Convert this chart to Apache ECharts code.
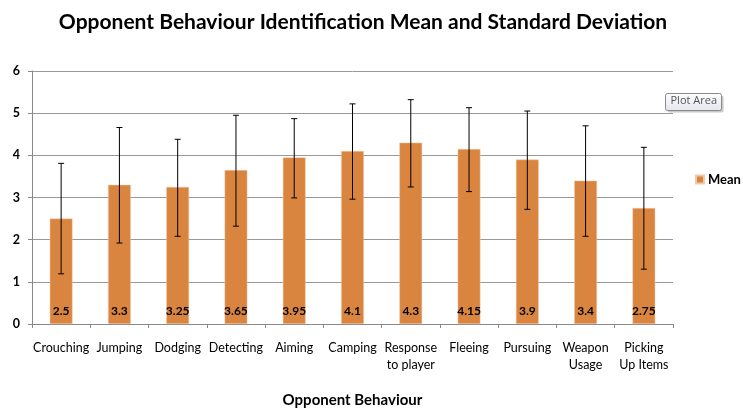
<!DOCTYPE html>
<html>
<head>
<meta charset="utf-8">
<script src="https://cdn.jsdelivr.net/npm/echarts@6/dist/echarts.min.js"></script>
<style>
  html, body { margin: 0; padding: 0; background: #fff; }
  #chart { width: 743px; height: 410px; }
</style>
</head>
<body>
<div id="chart"></div>
<script>
var behaviours = ['Crouching', 'Jumping', 'Dodging', 'Detecting', 'Aiming', 'Camping',
  'Response\nto player', 'Fleeing', 'Pursuing', 'Weapon\nUsage', 'Picking\nUp Items']
var means = [2.5, 3.3, 3.25, 3.65, 3.95, 4.1, 4.3, 4.15, 3.9, 3.4, 2.75]
// error bar ends
var upper = [3.81, 4.66, 4.38, 4.95, 4.87, 5.22, 5.32, 5.13, 5.05, 4.70, 4.19]
var lower = [1.19, 1.92, 2.08, 2.32, 2.99, 2.96, 3.25, 3.14, 2.72, 2.08, 1.30]
var yTicks = [0, 1, 2, 3, 4, 5, 6]

var font = 'Lato'
var myChart = echarts.init(document.getElementById('chart'))

var errData = behaviours.map(function (b, i) {
  return [i, lower[i], upper[i]]
})

var option = {
  animation: false,
  title: {
    text: 'Opponent Behaviour Identification Mean and Standard Deviation',
    left: 358,
    top: 7,
    textAlign: 'center',
    textStyle: { fontFamily: font, fontWeight: 'bold', fontSize: 21, color: '#000' }
  },
  legend: {
    data: ['Mean'],
    orient: 'vertical',
    left: 690,
    top: 168,
    width: 60,
    itemWidth: 8,
    itemHeight: 8,
    itemGap: 4,
    icon: 'rect',
    textStyle: { fontFamily: font, fontWeight: 'bold', fontSize: 13, color: '#000', padding: [0, 0, 0, -1] }
  },
  grid: {
    left: 32,
    right: 70,
    top: 71,
    bottom: 86,
    outerBoundsMode: 'none'
  },
  xAxis: {
    type: 'category',
    data: behaviours,
    name: 'Opponent Behaviour',
    nameLocation: 'middle',
    nameGap: 69,
    nameTextStyle: { fontFamily: font, fontWeight: 'bold', fontSize: 15, color: '#000' },
    axisLine: { lineStyle: { color: '#888' } },
    axisTick: { show: true, length: 4, lineStyle: { color: '#888' } },
    axisLabel: {
      interval: 0,
      margin: 15,
      fontFamily: font,
      fontSize: 12.5,
      lineHeight: 17,
      color: '#000'
    }
  },
  yAxis: {
    type: 'value',
    min: 0,
    max: 6,
    interval: 1,
    axisLine: { show: true, lineStyle: { color: '#888' } },
    axisTick: { show: true, length: 4, lineStyle: { color: '#888' } },
    axisLabel: {
      margin: 12,
      fontFamily: font,
      fontWeight: 'bold',
      fontSize: 12.5,
      color: '#000',
      formatter: function (v) { return yTicks.indexOf(v) >= 0 ? String(v) : '' }
    },
    splitLine: { lineStyle: { color: '#999', width: 1 } }
  },
  series: [
    {
      name: 'Mean',
      type: 'bar',
      data: means,
      barWidth: '39%',
      itemStyle: { color: '#d9843f', borderColor: '#f2c9a6', borderWidth: 0.5 },
      label: {
        show: true,
        position: 'insideBottom',
        distance: 7,
        fontFamily: font,
        fontWeight: 'bold',
        fontSize: 12,
        color: '#000'
      }
    },
    {
      name: 'SD',
      type: 'custom',
      data: errData,
      z: 10,
      renderItem: function (params, api) {
        var x = api.value(0)
        var lo = api.coord([x, api.value(1)])
        var hi = api.coord([x, api.value(2)])
        var w = 3
        var style = { stroke: '#000', lineWidth: 1 }
        return {
          type: 'group',
          children: [
            { type: 'line', shape: { x1: hi[0], y1: hi[1], x2: lo[0], y2: lo[1] }, style: style },
            { type: 'line', shape: { x1: hi[0] - w, y1: hi[1], x2: hi[0] + w, y2: hi[1] }, style: style },
            { type: 'line', shape: { x1: lo[0] - w, y1: lo[1], x2: lo[0] + w, y2: lo[1] }, style: style }
          ]
        }
      }
    }
  ],
  graphic: [
    {
      type: 'group',
      left: 665,
      top: 93,
      children: [
        {
          type: 'rect',
          shape: { x: 2, y: 2, width: 56, height: 17, r: 2 },
          style: { fill: '#c8c8c8' }
        },
        {
          type: 'rect',
          shape: { x: 0, y: 0, width: 56, height: 17, r: 2 },
          style: {
            fill: new echarts.graphic.LinearGradient(0, 0, 0, 1, [
              { offset: 0, color: '#ffffff' },
              { offset: 1, color: '#e4e5ee' }
            ]),
            stroke: '#8a8a8a',
            lineWidth: 1
          }
        },
        {
          type: 'text',
          x: 5,
          y: 2,
          style: { text: 'Plot Area', fontFamily: 'Open Sans', fontSize: 11, fill: '#555' }
        }
      ]
    }
  ]
}

option && myChart.setOption(option)
</script>
</body>
</html>
